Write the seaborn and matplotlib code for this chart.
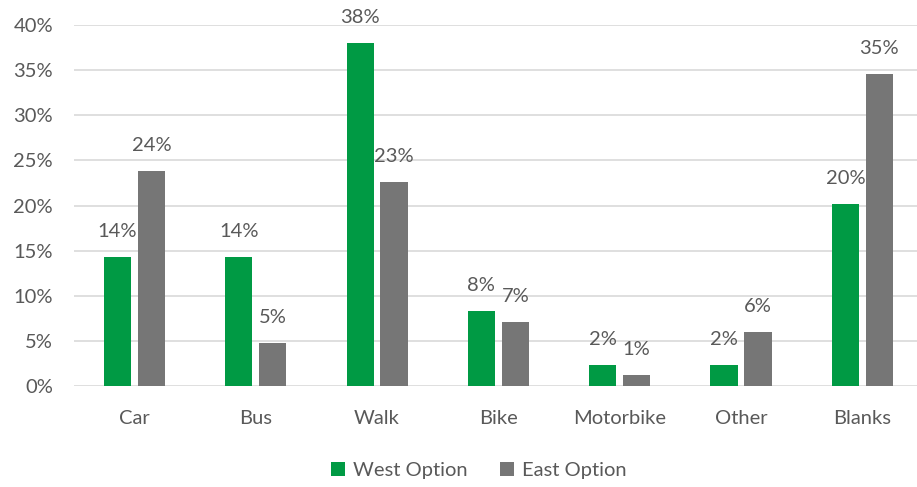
import matplotlib
matplotlib.use("Agg")
import matplotlib.pyplot as plt
import pandas as pd
import seaborn as sns
from matplotlib.ticker import PercentFormatter

categories = ["Car", "Bus", "Walk", "Bike", "Motorbike", "Other", "Blanks"]
west = [14.3, 14.3, 38.0, 8.3, 2.3, 2.3, 20.2]
east = [23.8, 4.8, 22.6, 7.1, 1.2, 6.0, 34.6]
series = ["West Option", "East Option"]

df = pd.DataFrame({
    "category": categories * 2,
    "value": west + east,
    "option": [series[0]] * len(categories) + [series[1]] * len(categories),
})

sns.set_style("white")
plt.rcParams["font.family"] = ["Lato", "DejaVu Sans"]
text_color = "#595959"

fig = plt.figure(figsize=(9.17, 4.87), dpi=100)
ax = fig.add_axes([0.0805, 0.207, 0.926, 0.7417])

sns.barplot(data=df, x="category", y="value", hue="option", ax=ax,
            palette=["#009A44", "#767676"], width=0.56, gap=0.2,
            saturation=1, linewidth=0)

# value labels above bars
for cont in ax.containers:
    for bar in cont:
        h = bar.get_height()
        ax.annotate(f"{h:.0f}%", (bar.get_x() + bar.get_width() / 2, h),
                    xytext=(0, 18.5), textcoords="offset points",
                    ha="center", va="center", fontsize=14.5, color=text_color)

ax.set_ylim(0, 40)
ax.set_yticks(range(0, 41, 5))
ax.yaxis.set_major_formatter(PercentFormatter(decimals=0))
ax.set_xlim(-0.5, len(categories) - 0.5)
ax.grid(axis="y", color="#d9d9d9", linewidth=1.2)
ax.set_axisbelow(True)
for s in ax.spines.values():
    s.set_visible(False)
ax.tick_params(axis="both", length=0, labelsize=14.5, colors=text_color)
ax.tick_params(axis="x", pad=17)
ax.tick_params(axis="y", pad=15)
ax.set_xlabel("")
ax.set_ylabel("")

ax.legend(loc="center", bbox_to_anchor=(0.522, 0.033),
          bbox_transform=fig.transFigure, ncol=2,
          frameon=False, fontsize=14.5, handlelength=0.7, handleheight=0.7,
          handletextpad=0.4, columnspacing=1.6, labelcolor=text_color)

fig.savefig("out.png", dpi=100)
